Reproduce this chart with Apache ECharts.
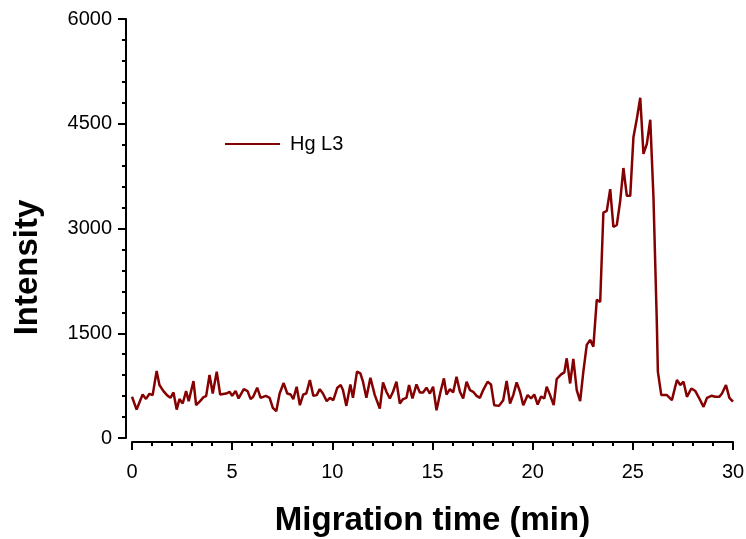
<!DOCTYPE html>
<html>
<head>
<meta charset="utf-8">
<script src="https://cdn.jsdelivr.net/npm/echarts@6/dist/echarts.min.js"></script>
<style>
  html, body { margin: 0; padding: 0; background: #fff; }
  #chart { width: 746px; height: 539px; }
</style>
</head>
<body>
<div id="chart"></div>
<script>
const seriesName = 'Hg L3'

// migration time (min)
const times = [
  0.0, 0.23, 0.53, 0.7, 0.87, 1.03, 1.23, 1.37, 1.57, 1.78, 1.92, 2.07, 2.23, 2.37, 2.53, 2.7, 2.83,
  3.07, 3.2, 3.4, 3.57, 3.7, 3.87, 4.03, 4.23, 4.4, 4.7, 4.87, 5.0, 5.17, 5.32, 5.58, 5.77, 5.92,
  6.05, 6.25, 6.42, 6.68, 6.87, 7.03, 7.2, 7.37, 7.57, 7.75, 7.92, 8.05, 8.22, 8.38, 8.55, 8.7,
  8.88, 9.05, 9.22, 9.37, 9.53, 9.72, 9.88, 10.05, 10.25, 10.42, 10.53, 10.7, 10.9, 11.03, 11.23,
  11.4, 11.53, 11.7, 11.9, 12.12, 12.37, 12.53, 12.7, 12.87, 13.03, 13.2, 13.37, 13.53, 13.7,
  13.83, 14.0, 14.2, 14.37, 14.53, 14.7, 14.87, 15.03, 15.2, 15.4, 15.57, 15.7, 15.87, 16.03,
  16.2, 16.37, 16.53, 16.7, 16.87, 17.03, 17.2, 17.37, 17.53, 17.75, 17.92, 18.08, 18.32, 18.53,
  18.7, 18.87, 19.03, 19.2, 19.37, 19.53, 19.75, 19.92, 20.08, 20.25, 20.42, 20.58, 20.7, 20.87,
  21.05, 21.2, 21.42, 21.58, 21.7, 21.87, 22.03, 22.2, 22.37, 22.53, 22.7, 22.87, 23.03, 23.2,
  23.37, 23.53, 23.7, 23.87, 24.03, 24.2, 24.37, 24.53, 24.7, 24.87, 25.03, 25.2, 25.37, 25.53,
  25.7, 25.87, 26.03, 26.2, 26.25, 26.42, 26.7, 26.95, 27.2, 27.37, 27.53, 27.7, 27.92, 28.12,
  28.32, 28.53, 28.7, 28.92, 29.12, 29.32, 29.45, 29.65, 29.82, 30.0
]

const intensity = [
  590, 407, 623, 560, 633, 614, 960, 758, 672, 604, 575, 652, 407, 557, 494, 672, 528,
  816, 470, 528, 585, 600, 902, 637, 950, 623, 637, 662, 604, 672, 566, 700, 672, 557,
  590, 720, 575, 604, 575, 432, 384, 637, 787, 637, 623, 557, 734, 470, 623, 637,
  830, 604, 614, 700, 637, 528, 575, 542, 720, 758, 686, 460, 767, 575, 950,
  925, 806, 575, 863, 614, 422, 796, 662, 566, 662, 806, 494, 557, 575,
  758, 566, 767, 652, 652, 720, 637, 734, 398, 662, 853, 623, 700, 652,
  878, 662, 566, 806, 686, 662, 604, 575, 686, 806, 767, 470, 460, 542,
  816, 494, 614, 796, 662, 470, 614, 566, 623, 480, 595, 566, 734, 614,
  470, 845, 911, 940, 1141, 781, 1132, 686, 528, 950, 1334, 1405, 1309, 1981,
  1947, 3228, 3252, 3564, 3022, 3050, 3396, 3866, 3468, 3468, 4307, 4571, 4873, 4068,
  4211, 4557, 3443, 1622, 950, 614, 614, 542, 830, 758, 806, 590, 709, 672,
  566, 446, 575, 604, 590, 590, 637, 758, 575, 520
]

const lineColor = '#850000'
const font = 'Liberation Sans, Arial, sans-serif'

const axisCommon = {
  axisLine: { show: true, onZero: false, lineStyle: { color: '#000', width: 2 } },
  axisTick: { show: true, inside: false, length: 8, lineStyle: { color: '#000', width: 2 } },
  minorTick: { show: true, splitNumber: 5, length: 4, lineStyle: { color: '#000', width: 2 } },
  splitLine: { show: false },
  axisLabel: { color: '#000', fontSize: 20, fontFamily: font, formatter: (v) => String(v) },
  nameTextStyle: { color: '#000', fontSize: 33, fontWeight: 'bold', fontFamily: font }
}

const option = {
  backgroundColor: '#fff',
  animation: false,
  grid: { left: 132, right: 13, top: 19, bottom: 101, outerBoundsMode: 'none' },
  legend: {
    left: 225,
    top: 134,
    padding: 0,
    data: [seriesName],
    icon: 'rect',
    itemWidth: 55,
    itemHeight: 2,
    itemGap: 10,
    textStyle: { color: '#000', fontSize: 20, fontFamily: font, padding: [0, 0, 0, 5] }
  },
  xAxis: {
    ...axisCommon,
    type: 'value',
    min: 0,
    max: 30,
    interval: 5,
    offset: 4,
    name: 'Migration time (min)',
    nameLocation: 'middle',
    nameGap: 62,
    axisLabel: { ...axisCommon.axisLabel, margin: 20 }
  },
  yAxis: {
    ...axisCommon,
    type: 'value',
    min: 0,
    max: 6000,
    interval: 1500,
    offset: 6,
    name: 'Intensity',
    nameLocation: 'middle',
    nameGap: 82,
    nameTextStyle: { ...axisCommon.nameTextStyle, padding: [0, 78, 0, 0] },
    axisLabel: { ...axisCommon.axisLabel, margin: 14 }
  },
  series: [
    {
      name: seriesName,
      type: 'line',
      symbol: 'none',
      data: times.map((t, i) => [t, intensity[i]]),
      lineStyle: { color: lineColor, width: 2.5 },
      itemStyle: { color: lineColor }
    }
  ]
}

const myChart = echarts.init(document.getElementById('chart'))
myChart.setOption(option)
</script>
</body>
</html>
